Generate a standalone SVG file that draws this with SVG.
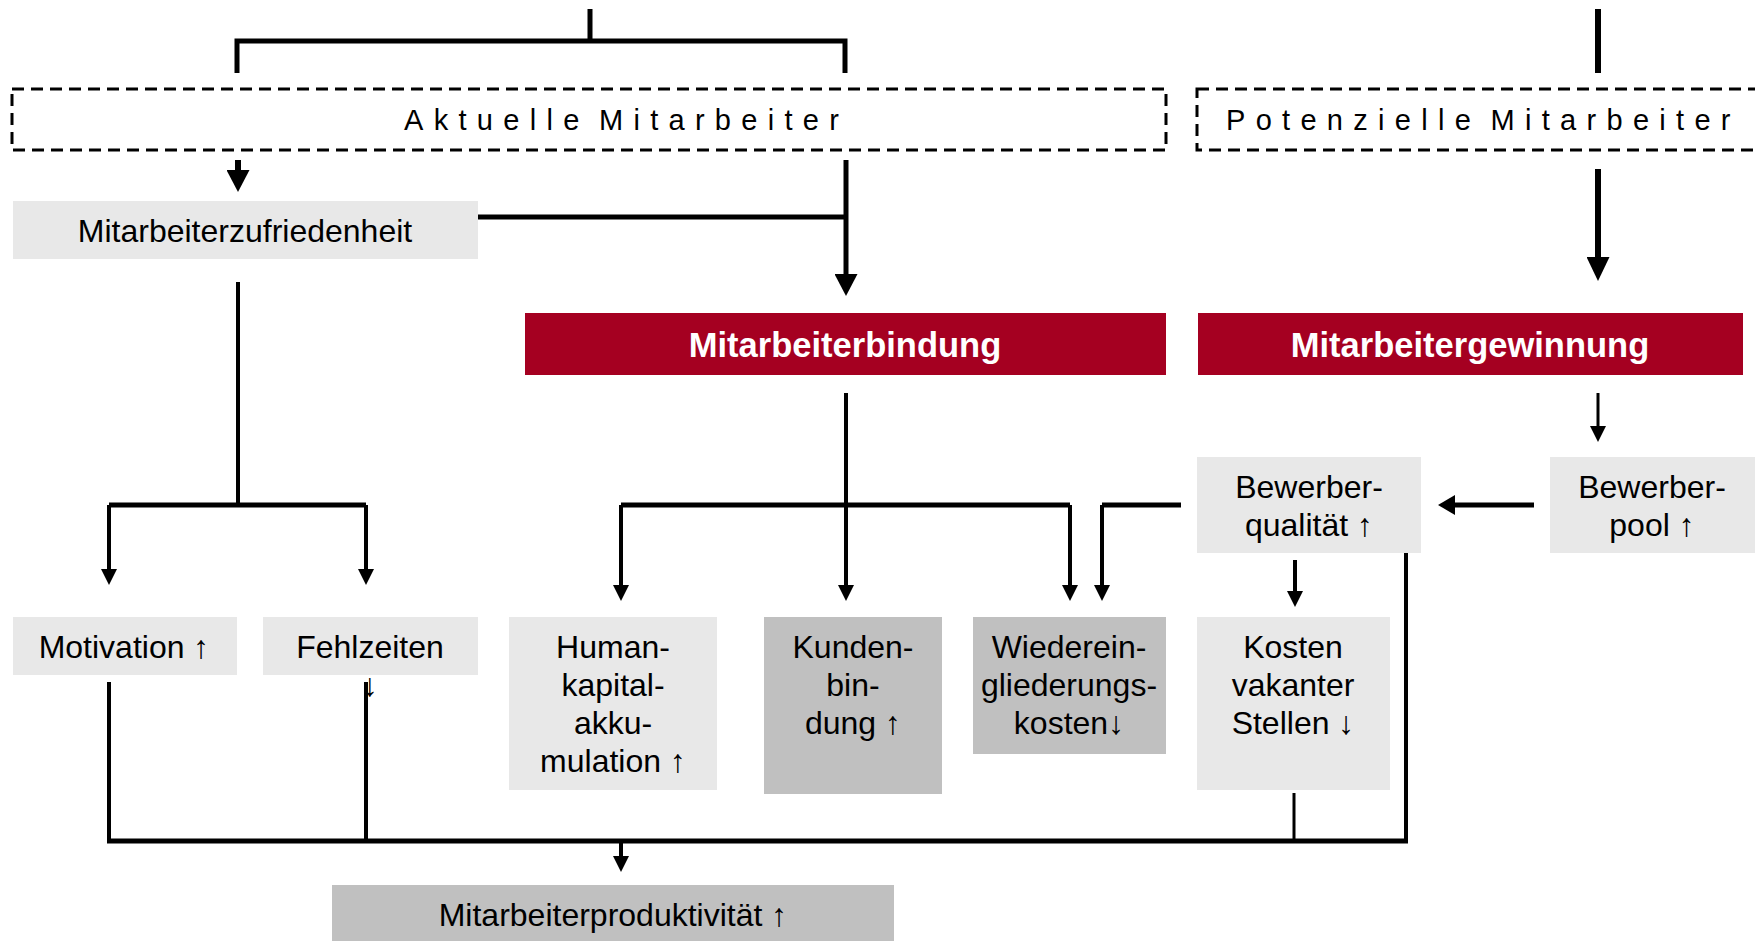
<svg xmlns="http://www.w3.org/2000/svg" width="1755" height="941" viewBox="0 0 1755 941">
<style>
text{font-family:"Liberation Sans",Arial,sans-serif;fill:#000}
.t{font-size:32px;text-anchor:middle}
.h{font-size:34.5px;font-weight:bold;fill:#fff;text-anchor:middle}
.sp{font-size:29px;letter-spacing:10.3px;word-spacing:-9px}
.lt{fill:#E8E8E8}
.dk{fill:#C0C0C0}
.red{fill:#A50021}
.dash{fill:none;stroke:#000;stroke-width:3;stroke-dasharray:12 7}
.c{fill:none;stroke:#000;stroke-linejoin:miter;stroke-linecap:butt}
</style>
<defs>
<marker id="aL" markerUnits="userSpaceOnUse" markerWidth="22" markerHeight="23" refX="0" refY="11.5" orient="auto" viewBox="0 0 22 23"><path d="M0,0 L22,11.5 L0,23 z" fill="#000"/></marker>
<marker id="aX" markerUnits="userSpaceOnUse" markerWidth="24" markerHeight="23" refX="0" refY="11.5" orient="auto" viewBox="0 0 24 23"><path d="M0,0 L24,11.5 L0,23 z" fill="#000"/></marker>
<marker id="aS" markerUnits="userSpaceOnUse" markerWidth="16" markerHeight="16" refX="0" refY="8" orient="auto" viewBox="0 0 16 16"><path d="M0,0 L16,8 L0,16 z" fill="#000"/></marker>
<marker id="aM" markerUnits="userSpaceOnUse" markerWidth="17" markerHeight="20" refX="0" refY="10" orient="auto" viewBox="0 0 17 20"><path d="M0,0 L17,10 L0,20 z" fill="#000"/></marker>
</defs>

<g id="aktuelle">
<rect class="dash" x="12" y="89" width="1154" height="61"/>
<text class="sp" x="404" y="130">Aktuelle Mitarbeiter</text>
</g>
<g id="potenzielle">
<rect class="dash" x="1197" y="89" width="580" height="61"/>
<text class="sp" x="1226" y="130">Potenzielle Mitarbeiter</text>
</g>

<g id="zufriedenheit"><rect class="lt" x="13" y="201" width="465" height="58"/><text class="t" x="245" y="242">Mitarbeiterzufriedenheit</text></g>
<g id="bindung"><rect class="red" x="525" y="313" width="641" height="62"/><text class="h" x="845" y="357">Mitarbeiterbindung</text></g>
<g id="gewinnung"><rect class="red" x="1198" y="313" width="545" height="62"/><text class="h" x="1470" y="357">Mitarbeitergewinnung</text></g>
<g id="qualitaet"><rect class="lt" x="1197" y="457" width="224" height="96"/><text class="t" x="1309" y="498">Bewerber-</text><text class="t" x="1309" y="536">qualität ↑</text></g>
<g id="pool"><rect class="lt" x="1550" y="457" width="205" height="96"/><text class="t" x="1652" y="498">Bewerber-</text><text class="t" x="1652" y="536">pool ↑</text></g>
<g id="motivation"><rect class="lt" x="13" y="617" width="224" height="58"/><text class="t" x="124" y="658">Motivation ↑</text></g>
<g id="fehlzeiten"><rect class="lt" x="263" y="617" width="215" height="58"/><text class="t" x="370" y="658">Fehlzeiten</text><text class="t" x="370" y="696">↓</text></g>
<g id="humankapital"><rect class="lt" x="509" y="617" width="208" height="173"/><text class="t" x="613" y="658">Human-</text><text class="t" x="613" y="696">kapital-</text><text class="t" x="613" y="734">akku-</text><text class="t" x="613" y="772">mulation ↑</text></g>
<g id="kundenbindung"><rect class="dk" x="764" y="617" width="178" height="177"/><text class="t" x="853" y="658">Kunden-</text><text class="t" x="853" y="696">bin-</text><text class="t" x="853" y="734">dung ↑</text></g>
<g id="wiedereingliederung"><rect class="dk" x="973" y="617" width="193" height="137"/><text class="t" x="1069" y="658">Wiederein-</text><text class="t" x="1069" y="696">gliederungs-</text><text class="t" x="1069" y="734">kosten↓</text></g>
<g id="kosten"><rect class="lt" x="1197" y="617" width="193" height="173"/><text class="t" x="1293" y="658">Kosten</text><text class="t" x="1293" y="696">vakanter</text><text class="t" x="1293" y="734">Stellen ↓</text></g>
<g id="produktivitaet"><rect class="dk" x="332" y="885" width="562" height="56"/><text class="t" x="613" y="926">Mitarbeiterproduktivität ↑</text></g>

<g id="connectors">
<path class="c" stroke-width="5" d="M590,9 V41 M237,73 V41 H845 V73"/>
<path class="c" stroke-width="6" d="M1598,9 V73"/>
<path class="c" stroke-width="6" d="M238,160 V170" marker-end="url(#aL)"/>
<path class="c" stroke-width="5" d="M478,217 H846"/>
<path class="c" stroke-width="5" d="M846,160 V274" marker-end="url(#aL)"/>
<path class="c" stroke-width="6" d="M1598,169 V257" marker-end="url(#aX)"/>
<path class="c" stroke-width="4" d="M238,282 V505"/>
<path class="c" stroke-width="5" d="M109,505 H366"/>
<path class="c" stroke-width="4" d="M109,505 V569" marker-end="url(#aS)"/>
<path class="c" stroke-width="4" d="M366,505 V569" marker-end="url(#aS)"/>
<path class="c" stroke-width="4" d="M846,393 V585" marker-end="url(#aS)"/>
<path class="c" stroke-width="5" d="M621,505 H1070"/>
<path class="c" stroke-width="4" d="M621,505 V585" marker-end="url(#aS)"/>
<path class="c" stroke-width="4" d="M1070,505 V585" marker-end="url(#aS)"/>
<path class="c" stroke-width="5" d="M1181,505 H1102"/>
<path class="c" stroke-width="4" d="M1102,505 V585" marker-end="url(#aS)"/>
<path class="c" stroke-width="3" d="M1598,393 V426" marker-end="url(#aS)"/>
<path class="c" stroke-width="5" d="M1534,505 H1455" marker-end="url(#aM)"/>
<path class="c" stroke-width="4" d="M1295,560 V591" marker-end="url(#aS)"/>
<path class="c" stroke-width="4" d="M1406,553 V843"/>
<path class="c" stroke-width="4" d="M109,682 V843"/>
<path class="c" stroke-width="4" d="M366,682 V843"/>
<path class="c" stroke-width="3" d="M1294,793 V843"/>
<path class="c" stroke-width="5" d="M107,841 H1408"/>
<path class="c" stroke-width="4" d="M621,841 V856" marker-end="url(#aS)"/>
</g>
</svg>
